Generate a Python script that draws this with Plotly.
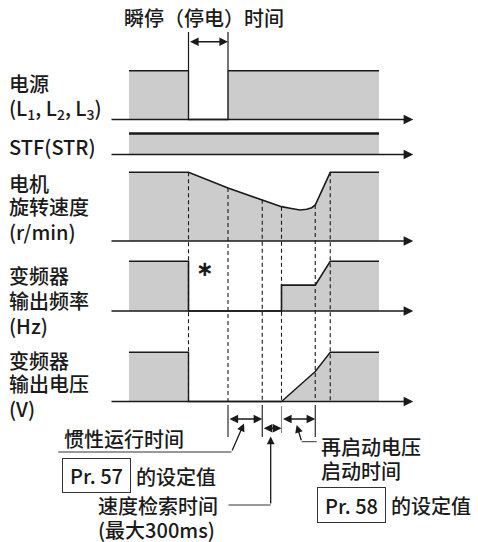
import numpy as np
import plotly.graph_objects as go

W, H = 478, 542
FONT = "Noto Sans CJK SC"
INK = "#1a1a1a"
GRAY = "#cccccc"

# ---------------- data (time: arbitrary units, level: 0..1) ----------------
event_times = [0.0, 2.38, 3.96, 5.33, 6.10, 7.45, 8.05, 10.0]
power_t = [0.0, 2.38, 2.38, 3.96, 3.96, 10.0]
power_lvl = [1, 1, 0, 0, 1, 1]
stf_t = [0.0, 10.0]
stf_lvl = [1, 1]
motor_t = [0.0, 2.38, 3.96, 5.33, 6.10, 6.44, 6.84, 7.11, 7.31, 7.45, 8.05, 10.0]
motor_lvl = [1, 1, 0.77, 0.60, 0.50, 0.476, 0.451, 0.461, 0.485, 0.524, 1, 1]
freq_t = [0.0, 2.38, 2.38, 6.10, 6.10, 7.45, 8.05, 10.0]
freq_lvl = [1, 1, 0, 0, 0.52, 0.52, 1, 1]
volt_t = [0.0, 2.38, 2.38, 6.10, 7.45, 8.05, 10.0]
volt_lvl = [1, 1, 0, 0, 0.61, 1, 1]

row_labels = {
    "power": ["电源", "(L<sub>1</sub>, L<sub>2</sub>, L<sub>3</sub>)"],
    "stf": ["STF(STR)"],
    "motor": ["电机", "旋转速度", "(r/min)"],
    "freq": ["变频器", "输出频率", "(Hz)"],
    "volt": ["变频器", "输出电压", "(V)"],
}

# ---------------- layout constants (pixels) ----------------
ROWS = {  # baseline y, height of level 1
    "power": (119.5, 48.8),
    "stf": (154.5, 21.0),
    "motor": (241.0, 68.7),
    "freq": (311.0, 49.7),
    "volt": (401.5, 49.2),
}
LABEL_Y = {
    "power": [83.3, 108.3],
    "stf": [146.7],
    "motor": [183.3, 206.7, 231.7],
    "freq": [275, 300, 325],
    "volt": [360, 383.3, 408.3],
}
PX0, PXS = 129.0, 25.0  # x pixel of t=0, pixels per time unit
AX_START, AX_END = -0.76, 11.37


def ty(row, lvl):
    base, h = ROWS[row]
    return [base - l * h for l in np.atleast_1d(lvl)]


def px2t(px):
    return (px - PX0) / PXS


fig = go.Figure()
signals = {
    "power": (power_t, power_lvl, 1.4),
    "stf": (stf_t, stf_lvl, 2.4),
    "motor": (motor_t, motor_lvl, 1.6),
    "freq": (freq_t, freq_lvl, 1.6),
    "volt": (volt_t, volt_lvl, 1.4),
}

# grey fills
for row, (t, lvl, _) in signals.items():
    base = ROWS[row][0]
    xs = [t[0]] + list(t) + [t[-1]]
    ys = [base] + ty(row, lvl) + [base]
    fig.add_trace(go.Scatter(x=xs, y=ys, mode="lines", fill="toself",
                             fillcolor=GRAY, line=dict(width=0),
                             hoverinfo="skip", showlegend=False))

# dashed guide lines, from motor curve down to voltage baseline
dash_times = event_times[1:-1]
dx, dy = [], []
for t in dash_times:
    y0 = ty("motor", np.interp(t, motor_t, motor_lvl))[0]
    dx += [t, t, None]
    dy += [y0, ROWS["volt"][0], None]
fig.add_trace(go.Scatter(x=dx, y=dy, mode="lines",
                         line=dict(color=INK, width=1.1, dash="4px,3px"),
                         hoverinfo="skip", showlegend=False))

annotations = []
# time axes with arrows
for row in ROWS:
    base = ROWS[row][0]
    annotations.append(dict(x=AX_END, y=base, ax=AX_START, ay=base,
                            xref="x", yref="y", axref="x", ayref="y",
                            text="", showarrow=True, arrowhead=2,
                            arrowsize=1.2, arrowwidth=1.6, arrowcolor=INK))

# signal outlines
for row, (t, lvl, w) in signals.items():
    fig.add_trace(go.Scatter(x=t, y=ty(row, lvl), mode="lines",
                             line=dict(color=INK, width=w),
                             hoverinfo="skip", showlegend=False))

# ---------------- brackets ----------------
t_off, t_on, t_coast, t_search, t_vramp = event_times[1:6]
# top bracket (instantaneous power failure)
fig.add_trace(go.Scatter(x=[t_off, t_off, None, t_on, t_on],
                         y=[32, 70, None, 32, 70], mode="lines",
                         line=dict(color=INK, width=1.2),
                         hoverinfo="skip", showlegend=False))


def dbl(t1, t2, y):
    return dict(x=t2, y=y, ax=t1, ay=y, xref="x", yref="y", axref="x",
                ayref="y", text="", showarrow=True, arrowhead=2,
                arrowside="end+start", arrowsize=1.15, arrowwidth=1.5,
                arrowcolor=INK)


annotations.append(dbl(t_off, t_on, 41.7))

# bottom brackets
fig.add_trace(go.Scatter(x=[t_on, t_on, None, t_coast, t_coast, None, t_vramp, t_vramp],
                         y=[405, 437, None, 405, 437, None, 405, 437],
                         mode="lines", line=dict(color=INK, width=1.1),
                         hoverinfo="skip", showlegend=False))
fig.add_trace(go.Scatter(x=[t_search, t_search], y=[406, 433], mode="lines",
                         line=dict(color="#8a8a8a", width=1.1),
                         hoverinfo="skip", showlegend=False))
annotations.append(dbl(t_on, t_coast, 419))
annotations.append(dbl(t_coast, t_search, 428.3))
annotations.append(dbl(t_search, t_vramp, 419))

# leader lines
LEAD = "#333333"
fig.add_trace(go.Scatter(x=[px2t(58.3), px2t(231.5)], y=[452, 452], mode="lines",
                         line=dict(color=LEAD, width=1), hoverinfo="skip",
                         showlegend=False))
annotations.append(dict(x=px2t(244), y=423.5, ax=px2t(231.5), ay=452,
                        xref="x", yref="y", axref="x", ayref="y", text="",
                        showarrow=True, arrowhead=2, arrowsize=1.2,
                        arrowwidth=1.3, arrowcolor=INK))
fig.add_trace(go.Scatter(x=[px2t(228.5), px2t(270.7)], y=[505, 505], mode="lines",
                         line=dict(color=LEAD, width=1), hoverinfo="skip",
                         showlegend=False))
annotations.append(dict(x=px2t(270.7), y=436.5, ax=px2t(270.7), ay=505,
                        xref="x", yref="y", axref="x", ayref="y", text="",
                        showarrow=True, arrowhead=2, arrowsize=1.2,
                        arrowwidth=1.3, arrowcolor=INK))
fig.add_trace(go.Scatter(x=[px2t(301.7), px2t(316.7)], y=[441.7, 441.7], mode="lines",
                         line=dict(color=LEAD, width=1), hoverinfo="skip",
                         showlegend=False))
annotations.append(dict(x=px2t(296.7), y=425, ax=px2t(301.7), ay=441.7,
                        xref="x", yref="y", axref="x", ayref="y", text="",
                        showarrow=True, arrowhead=2, arrowsize=1.2,
                        arrowwidth=1.3, arrowcolor=INK))

# ---------------- texts ----------------
FS = 20


def txt(text, px, py, anchor="left", size=FS, family=FONT, weight=500, **kw):
    d = dict(text=text, x=px / W, y=1 - py / H, xref="paper", yref="paper",
             xanchor=anchor, yanchor="middle", showarrow=False,
             font=dict(family=family, size=size, color=INK, weight=weight))
    d.update(kw)
    return d


for row, lines in row_labels.items():
    for s, py in zip(lines, LABEL_Y[row]):
        annotations.append(txt(s, 7, py))

annotations.append(txt("瞬停（停电）时间", 203.5, 17, anchor="center"))
annotations.append(txt("∗", 205, 268.5, anchor="center", size=21,
                       family="DejaVu Sans", weight=700))
annotations.append(txt("惯性运行时间", 62, 438))
annotations.append(txt("Pr. 57", 96.7, 475.5, anchor="center", bordercolor="#333",
                       borderwidth=1, borderpad=3, bgcolor="white",
                       width=61, height=27, align="center"))
annotations.append(txt("的设定值", 134, 476))
annotations.append(txt("速度检索时间", 96, 505))
annotations.append(txt("(最大300ms)", 96, 529.5))
annotations.append(txt("再启动电压", 319, 446))
annotations.append(txt("启动时间", 319, 470))
annotations.append(txt("Pr. 58", 351.2, 504.7, anchor="center", bordercolor="#333",
                       borderwidth=1, borderpad=3, bgcolor="white",
                       width=61, height=28, align="center"))
annotations.append(txt("的设定值", 389, 505))

fig.update_layout(
    width=W, height=H, margin=dict(l=0, r=0, t=0, b=0),
    paper_bgcolor="white", plot_bgcolor="white",
    xaxis=dict(range=[px2t(0), px2t(W)], visible=False, fixedrange=True),
    yaxis=dict(range=[H, 0], visible=False, fixedrange=True),
    annotations=annotations, showlegend=False,
)
fig.write_html("out.html", config={"displayModeBar": False},
               post_script="document.body.style.margin='0';"
                           "document.body.style.overflow='hidden';")
